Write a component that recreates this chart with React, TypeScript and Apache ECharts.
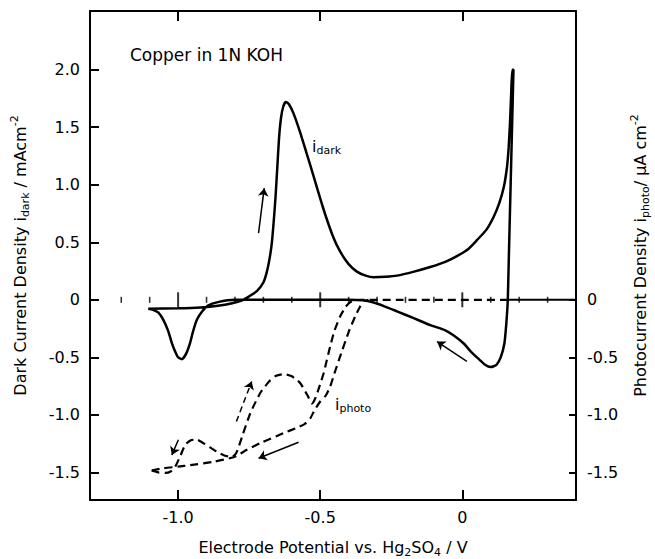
import React, { useEffect, useRef } from "react";
import * as echarts from "echarts";

// ---- data (potential V vs Hg2SO4, current density) ----
const darkAnodic: [number, number][] = [
  [-1.105, -0.078], [-1.0, -0.074], [-0.92, -0.066], [-0.86, -0.052], [-0.81, -0.03],
  [-0.775, -0.005], [-0.75, 0.03], [-0.723, 0.075], [-0.70, 0.15], [-0.688, 0.24],
  [-0.678, 0.36], [-0.67, 0.5], [-0.663, 0.7], [-0.657, 0.9], [-0.651, 1.15],
  [-0.645, 1.4], [-0.638, 1.58], [-0.63, 1.68], [-0.621, 1.72], [-0.61, 1.70],
  [-0.594, 1.62], [-0.57, 1.45], [-0.535, 1.17], [-0.49, 0.80], [-0.455, 0.55],
  [-0.43, 0.42], [-0.40, 0.31], [-0.371, 0.245], [-0.34, 0.21], [-0.312, 0.196],
  [-0.27, 0.2], [-0.23, 0.21], [-0.17, 0.245], [-0.113, 0.285], [-0.06, 0.33],
  [-0.019, 0.38], [0.02, 0.44], [0.052, 0.52], [0.085, 0.61], [0.11, 0.72],
  [0.13, 0.84], [0.146, 0.98], [0.157, 1.15], [0.163, 1.32], [0.168, 1.55],
  [0.172, 1.8], [0.176, 2.0],
];
const darkCathodic: [number, number][] = [
  [0.18, 2.0], [0.172, 1.2], [0.163, 0.3], [0.16, 0], [0.155, -0.2], [0.148, -0.38],
  [0.135, -0.5], [0.12, -0.565], [0.1, -0.585], [0.08, -0.565], [0.06, -0.52],
  [0.03, -0.45], [0.005, -0.38], [-0.03, -0.31], [-0.06, -0.265], [-0.113, -0.22],
  [-0.171, -0.16], [-0.23, -0.10], [-0.28, -0.05], [-0.312, -0.023], [-0.35, -0.005],
  [-0.40, 0], [-0.6, 0], [-0.8, 0], [-0.86, -0.02], [-0.895, -0.05], [-0.915, -0.1],
  [-0.934, -0.174], [-0.948, -0.28], [-0.958, -0.377], [-0.972, -0.47], [-0.987, -0.516],
  [-1.0, -0.5], [-1.012, -0.44], [-1.022, -0.377], [-1.035, -0.27], [-1.052, -0.174],
  [-1.07, -0.11], [-1.09, -0.085], [-1.105, -0.078],
];
const photoOuter: [number, number][] = [
  [0.16, 0], [-0.36, 0], [-0.38, -0.005], [-0.394, -0.02], [-0.41, -0.06], [-0.43, -0.145],
  [-0.45, -0.27], [-0.465, -0.406], [-0.488, -0.638], [-0.505, -0.77], [-0.518, -0.86],
  [-0.529, -0.9], [-0.545, -0.83], [-0.57, -0.725], [-0.6, -0.665], [-0.629, -0.646],
  [-0.655, -0.66], [-0.68, -0.71], [-0.711, -0.81], [-0.746, -0.986], [-0.775, -1.19],
  [-0.795, -1.33], [-0.81, -1.365], [-0.835, -1.355], [-0.864, -1.319], [-0.911, -1.246],
  [-0.935, -1.215], [-0.955, -1.22], [-0.975, -1.26], [-0.993, -1.362], [-1.01, -1.45],
  [-1.025, -1.49], [-1.045, -1.505], [-1.07, -1.5], [-1.093, -1.484],
];
const photoInner: [number, number][] = [
  [-1.093, -1.484], [-1.052, -1.464], [-1.0, -1.45], [-0.958, -1.437], [-0.876, -1.408],
  [-0.805, -1.368], [-0.758, -1.304], [-0.711, -1.246], [-0.629, -1.159], [-0.585, -1.115],
  [-0.555, -1.08], [-0.535, -1.03], [-0.52, -0.96], [-0.5, -0.884], [-0.48, -0.83],
  [-0.465, -0.754], [-0.45, -0.64], [-0.43, -0.493], [-0.40, -0.28], [-0.377, -0.145],
  [-0.36, -0.06], [-0.345, -0.01], [-0.33, 0],
];
const zeroLineSolid: [number, number][] = [[0.16, 0], [0.4, 0]];
const zeroMinorTicks: number[] = [-1.2, -1.1, -0.9, -0.8, -0.7, -0.6, -0.4, -0.3, -0.2, -0.1, 0.1, 0.2, 0.3];
const zeroMajorTicks: number[] = [-1.0, -0.5, 0];
const xTickValues: number[] = [-1.0, -0.5, 0];
const yLeftTickValues: number[] = [-1.5, -1.0, -0.5, 0, 0.5, 1.0, 1.5, 2.0];
const yRightTickValues: number[] = [-1.5, -1.0, -0.5, 0];
// arrows: [from, to]
const arrowsSolid: [number, number][][] = [
  [[-0.717, 0.58], [-0.697, 0.97]],
  [[0.016, -0.536], [-0.089, -0.363]],
  [[-0.576, -1.238], [-0.717, -1.377]],
  [[-0.999, -1.217], [-1.022, -1.348]],
];
const arrowsDashed: [number, number][][] = [
  [[-0.795, -1.058], [-0.741, -0.71]],
];

const FONT = "DejaVu Sans";
const fmt = (v: number) => (v === 0 ? "0" : v.toFixed(1));
const richBase = {
  n: { fontSize: 16, fontFamily: FONT, color: "#000", lineHeight: 22, verticalAlign: "middle" },
  sub: { fontSize: 11, fontFamily: FONT, color: "#000", lineHeight: 11, verticalAlign: "bottom" },
  sup: { fontSize: 11, fontFamily: FONT, color: "#000", lineHeight: 11, verticalAlign: "top" },
};

export default function App() {
  const ref = useRef<HTMLDivElement>(null);
  useEffect(() => {
    if (!ref.current) return;
    const chart = echarts.init(ref.current, undefined, { renderer: "svg" });
    const axisLine = { show: true, onZero: false, lineStyle: { color: "#000", width: 2 } };
    const labelStyle = { fontSize: 16, fontFamily: FONT, color: "#000" };
    const arrowData = [
      ...arrowsSolid.map((a) => [
        { coord: a[0] },
        { coord: a[1], lineStyle: { type: "solid" } },
      ]),
      ...arrowsDashed.map((a) => [
        { coord: a[0], lineStyle: { type: [6, 4] } },
        { coord: a[1], lineStyle: { type: [6, 4] } },
      ]),
    ];
    chart.setOption({
      animation: false,
      backgroundColor: "#fff",
      grid: { left: 90, right: 79, top: 11, bottom: 59, outerBoundsMode: "none" },
      xAxis: [
        {
          type: "value", min: -1.31, max: 0.4, position: "bottom",
          axisLine, splitLine: { show: false },
          axisTick: { inside: true, length: 10, customValues: xTickValues, lineStyle: { color: "#000", width: 2 } },
          axisLabel: { customValues: xTickValues, formatter: fmt, margin: 9, ...labelStyle },
          name: "{n|Electrode Potential vs. Hg}{sub|2}{n|SO}{sub|4}{n| / V}",
          nameLocation: "middle", nameGap: 36,
          nameTextStyle: { rich: richBase },
        },
        {
          type: "value", min: -1.31, max: 0.4, position: "top",
          axisLine, splitLine: { show: false },
          axisTick: { inside: true, length: 10, customValues: xTickValues, lineStyle: { color: "#000", width: 2 } },
          axisLabel: { show: false },
        },
      ],
      yAxis: [
        {
          type: "value", min: -1.74, max: 2.51, position: "left",
          axisLine, splitLine: { show: false },
          axisTick: { inside: true, length: 9, customValues: yLeftTickValues, lineStyle: { color: "#000", width: 2 } },
          axisLabel: { customValues: yLeftTickValues, formatter: fmt, margin: 10, ...labelStyle },
          name: "{n|Dark Current Density i}{sub|dark}{n| / mAcm}{sup|-2}",
          nameLocation: "middle", nameGap: 59, nameRotate: 90,
          nameTextStyle: { rich: richBase },
        },
        {
          type: "value", min: -1.74, max: 2.51, position: "right",
          axisLine, splitLine: { show: false },
          axisTick: { inside: true, length: 7, customValues: yRightTickValues, lineStyle: { color: "#000", width: 2 } },
          axisLabel: { customValues: yRightTickValues, formatter: fmt, margin: 11, ...labelStyle },
          name: "{n|Photocurrent Density i}{sub|photo}{n|/ μA cm}{sup|-2}",
          nameLocation: "middle", nameGap: 50, nameRotate: 90,
          nameTextStyle: { rich: richBase },
        },
      ],
      series: [
        {
          type: "line", name: "dark", data: [...darkAnodic, ...darkCathodic],
          showSymbol: false, smooth: 0.2, xAxisIndex: 0, yAxisIndex: 0,
          lineStyle: { color: "#000", width: 2.5 },
          markLine: {
            silent: true, symbol: ["none", "arrow"], symbolSize: 8,
            label: { show: false },
            lineStyle: { color: "#000", width: 1.5, type: "solid" },
            data: arrowData,
          },
        },
        {
          type: "line", name: "photoOuter", data: photoOuter, showSymbol: false, smooth: 0.2,
          lineStyle: { color: "#000", width: 2.2, type: [8, 5] },
        },
        {
          type: "line", name: "photoInner", data: photoInner, showSymbol: false, smooth: 0.2,
          lineStyle: { color: "#000", width: 2.2, type: [8, 5] },
        },
        {
          type: "line", name: "zero", data: zeroLineSolid, showSymbol: false,
          lineStyle: { color: "#000", width: 2 },
        },
        {
          type: "scatter", name: "minorTicks", data: zeroMinorTicks.map((x) => [x, 0]),
          symbol: "rect", symbolSize: [1.6, 6], itemStyle: { color: "#000" }, silent: true,
        },
        {
          type: "scatter", name: "majorTicks", data: zeroMajorTicks.map((x) => [x, 0]),
          symbol: "rect", symbolSize: [2, 15], itemStyle: { color: "#000" }, silent: true,
        },
      ],
      graphic: [
        {
          type: "text", x: 130, y: 55,
          style: { text: "Copper in 1N KOH", font: `17px '${FONT}'`, fill: "#000", verticalAlign: "middle" },
        },
        {
          type: "text", x: 312, y: 146,
          style: {
            text: "{i|i}{s|dark}", verticalAlign: "middle",
            rich: {
              i: { fontSize: 16, fontFamily: FONT, fill: "#000", lineHeight: 20, verticalAlign: "middle" },
              s: { fontSize: 11, fontFamily: FONT, fill: "#000", lineHeight: 11, verticalAlign: "bottom" },
            },
          },
        },
        {
          type: "text", x: 335, y: 404,
          style: {
            text: "{i|i}{s|photo}", verticalAlign: "middle",
            rich: {
              i: { fontSize: 16, fontFamily: FONT, fill: "#000", lineHeight: 20, verticalAlign: "middle" },
              s: { fontSize: 11, fontFamily: FONT, fill: "#000", lineHeight: 11, verticalAlign: "bottom" },
            },
          },
        },
      ],
    });
    return () => chart.dispose();
  }, []);
  return <div ref={ref} style={{ position: "absolute", left: 0, top: 0, width: 655, height: 559 }} />;
}
